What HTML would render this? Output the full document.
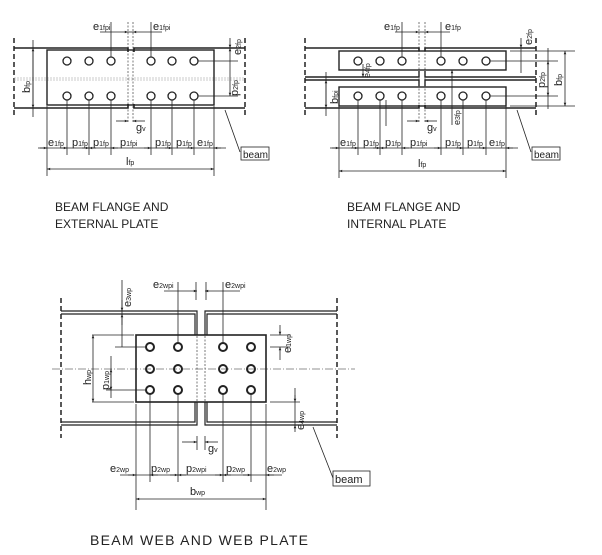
<!DOCTYPE html>
<html><head><meta charset="utf-8"><style>
html,body{margin:0;padding:0;background:#fff;}
svg{display:block;font-family:"Liberation Sans",Arial,sans-serif;}
text{fill:#222;}
.t{font-size:11px;}
.s{font-size:7px;}
</style></head><body>
<svg width="602" height="555" viewBox="0 0 602 555" xmlns="http://www.w3.org/2000/svg">
<defs>
<marker id="a" viewBox="0 0 10 10" refX="10" refY="5" markerWidth="6" markerHeight="4" orient="auto-start-reverse"><path d="M0,1 L10,5 L0,9z" fill="#222"/></marker>
</defs>
<g stroke="#222" fill="none" stroke-width="0.8">

<!-- ===== Diagram 1 ===== -->
<line x1="14" y1="38" x2="14" y2="118" stroke-dasharray="5,3" stroke-width="1.5"/>
<line x1="245" y1="38" x2="245" y2="118" stroke-dasharray="5,3" stroke-width="1.5"/>
<path d="M14 48H128V52M134 52V48H245" stroke-width="1.6"/>
<path d="M14 108H128V104M134 104V108H245" stroke-width="1.6"/>
<line x1="14" y1="78" x2="245" y2="78" stroke="#bbb" stroke-dasharray="2,1"/>
<line x1="14" y1="80" x2="245" y2="80" stroke="#bbb" stroke-dasharray="2,1"/>
<rect x="47" y="50" width="167" height="55" stroke-width="1.4"/>
<line x1="128" y1="22" x2="128" y2="122" stroke-dasharray="2,1.5" stroke-width="0.6"/>
<line x1="133" y1="22" x2="133" y2="122" stroke-dasharray="2,1.5" stroke-width="0.6"/>
<g stroke-width="1.3">
<circle cx="67" cy="61" r="4"/><circle cx="89" cy="61" r="4"/><circle cx="111" cy="61" r="4"/>
<circle cx="151" cy="61" r="4"/><circle cx="172" cy="61" r="4"/><circle cx="194" cy="61" r="4"/>
<circle cx="67" cy="96" r="4"/><circle cx="89" cy="96" r="4"/><circle cx="111" cy="96" r="4"/>
<circle cx="151" cy="96" r="4"/><circle cx="172" cy="96" r="4"/><circle cx="194" cy="96" r="4"/>
</g>
<!-- top dims -->
<line x1="111" y1="22" x2="111" y2="57"/><line x1="151" y1="22" x2="151" y2="57"/>
<line x1="100" y1="32" x2="128" y2="32" marker-end="url(#a)"/><line x1="162" y1="32" x2="133" y2="32" marker-end="url(#a)"/>
<line x1="128" y1="32" x2="133" y2="32"/>
<!-- bfp -->
<line x1="25" y1="48" x2="45" y2="48"/><line x1="25" y1="108" x2="45" y2="108"/>
<line x1="33" y1="40" x2="33" y2="117" /><line x1="33" y1="48" x2="33" y2="108" marker-start="url(#a)" marker-end="url(#a)"/>
<!-- right dims -->
<line x1="198" y1="61" x2="238" y2="61"/><line x1="198" y1="96" x2="238" y2="96"/>
<line x1="218" y1="48" x2="240" y2="48"/>
<line x1="230" y1="38" x2="230" y2="48" marker-end="url(#a)"/>
<line x1="230" y1="48" x2="230" y2="96" marker-start="url(#a)" marker-end="url(#a)"/>
<!-- gv -->
<line x1="116" y1="121" x2="128" y2="121" marker-end="url(#a)"/><line x1="145" y1="121" x2="133" y2="121" marker-end="url(#a)"/>
<!-- bottom ext -->
<line x1="47" y1="106" x2="47" y2="176"/><line x1="214" y1="106" x2="214" y2="176"/>
<line x1="67" y1="100" x2="67" y2="155"/><line x1="89" y1="100" x2="89" y2="155"/><line x1="111" y1="100" x2="111" y2="155"/>
<line x1="151" y1="100" x2="151" y2="155"/><line x1="172" y1="100" x2="172" y2="155"/><line x1="194" y1="100" x2="194" y2="155"/>
<line x1="38" y1="148" x2="226" y2="148"/>
<line x1="40" y1="148" x2="47" y2="148" marker-end="url(#a)"/>
<line x1="60" y1="148" x2="67" y2="148" marker-end="url(#a)"/><line x1="82" y1="148" x2="89" y2="148" marker-end="url(#a)"/>
<line x1="96" y1="148" x2="89" y2="148" marker-end="url(#a)"/><line x1="118" y1="148" x2="111" y2="148" marker-end="url(#a)"/>
<line x1="144" y1="148" x2="151" y2="148" marker-end="url(#a)"/><line x1="165" y1="148" x2="172" y2="148" marker-end="url(#a)"/>
<line x1="187" y1="148" x2="194" y2="148" marker-end="url(#a)"/><line x1="221" y1="148" x2="214" y2="148" marker-end="url(#a)"/>
<line x1="47" y1="169" x2="214" y2="169" marker-start="url(#a)" marker-end="url(#a)"/>
<line x1="225" y1="110" x2="240" y2="152"/>
<rect x="241" y="147" width="28" height="13" stroke-width="0.8"/>

<!-- ===== Diagram 2 ===== -->
<line x1="305" y1="38" x2="305" y2="118" stroke-dasharray="5,3" stroke-width="1.5"/>
<line x1="536" y1="38" x2="536" y2="118" stroke-dasharray="5,3" stroke-width="1.5"/>
<path d="M305 48H419V51M425 51V48H536" stroke-width="1.6"/>
<path d="M305 108H419V105M425 105V108H536" stroke-width="1.6"/>
<path d="M305 77H419V71M425 71V77H536" stroke-width="1.4"/>
<path d="M305 80H419V86M425 86V80H536" stroke-width="1.4"/>
<rect x="339" y="51" width="167" height="19" stroke-width="1.4"/>
<rect x="339" y="87" width="167" height="19" stroke-width="1.4"/>
<line x1="419" y1="22" x2="419" y2="122" stroke-dasharray="2,1.5" stroke-width="0.6"/>
<line x1="425" y1="22" x2="425" y2="122" stroke-dasharray="2,1.5" stroke-width="0.6"/>
<g stroke-width="1.3">
<circle cx="358" cy="61" r="4"/><circle cx="380" cy="61" r="4"/><circle cx="402" cy="61" r="4"/>
<circle cx="441" cy="61" r="4"/><circle cx="463" cy="61" r="4"/><circle cx="486" cy="61" r="4"/>
<circle cx="358" cy="96" r="4"/><circle cx="380" cy="96" r="4"/><circle cx="402" cy="96" r="4"/>
<circle cx="441" cy="96" r="4"/><circle cx="463" cy="96" r="4"/><circle cx="486" cy="96" r="4"/>
</g>
<line x1="402" y1="22" x2="402" y2="57"/><line x1="441" y1="22" x2="441" y2="57"/>
<line x1="395" y1="32" x2="419" y2="32" marker-end="url(#a)"/><line x1="450" y1="32" x2="425" y2="32" marker-end="url(#a)"/>
<line x1="419" y1="32" x2="425" y2="32"/>
<!-- bfpi -->
<line x1="318" y1="80" x2="337" y2="80"/><line x1="318" y1="108" x2="337" y2="108"/>
<line x1="326" y1="72" x2="326" y2="116"/><line x1="326" y1="80" x2="326" y2="108" marker-start="url(#a)" marker-end="url(#a)"/>
<!-- e4fp -->
<line x1="363" y1="64" x2="363" y2="77" marker-end="url(#a)"/>
<!-- e3fp -->
<line x1="452" y1="125" x2="452" y2="70" marker-end="url(#a)"/>
<line x1="386" y1="100" x2="386" y2="126"/>
<!-- right dims -->
<line x1="490" y1="61" x2="558" y2="61"/><line x1="490" y1="96" x2="558" y2="96"/>
<line x1="510" y1="51" x2="575" y2="51"/><line x1="510" y1="106" x2="575" y2="106"/>
<line x1="520" y1="48" x2="536" y2="48"/>
<line x1="521" y1="38" x2="521" y2="48" marker-end="url(#a)"/>
<line x1="521" y1="48" x2="521" y2="73"/>
<line x1="548" y1="61" x2="548" y2="96" marker-start="url(#a)" marker-end="url(#a)"/>
<line x1="548" y1="48" x2="548" y2="109"/>
<line x1="565" y1="51" x2="565" y2="106" marker-start="url(#a)" marker-end="url(#a)"/>
<!-- gv -->
<line x1="407" y1="121" x2="419" y2="121" marker-end="url(#a)"/><line x1="437" y1="121" x2="425" y2="121" marker-end="url(#a)"/>
<!-- bottom -->
<line x1="339" y1="106" x2="339" y2="178"/><line x1="506" y1="106" x2="506" y2="178"/>
<line x1="358" y1="100" x2="358" y2="155"/><line x1="380" y1="100" x2="380" y2="155"/><line x1="402" y1="100" x2="402" y2="155"/>
<line x1="441" y1="100" x2="441" y2="155"/><line x1="463" y1="100" x2="463" y2="155"/><line x1="486" y1="100" x2="486" y2="155"/>
<line x1="330" y1="148" x2="518" y2="148"/>
<line x1="332" y1="148" x2="339" y2="148" marker-end="url(#a)"/>
<line x1="351" y1="148" x2="358" y2="148" marker-end="url(#a)"/><line x1="373" y1="148" x2="380" y2="148" marker-end="url(#a)"/>
<line x1="387" y1="148" x2="380" y2="148" marker-end="url(#a)"/><line x1="409" y1="148" x2="402" y2="148" marker-end="url(#a)"/>
<line x1="434" y1="148" x2="441" y2="148" marker-end="url(#a)"/><line x1="456" y1="148" x2="463" y2="148" marker-end="url(#a)"/>
<line x1="479" y1="148" x2="486" y2="148" marker-end="url(#a)"/><line x1="513" y1="148" x2="506" y2="148" marker-end="url(#a)"/>
<line x1="339" y1="171" x2="506" y2="171" marker-start="url(#a)" marker-end="url(#a)"/>
<line x1="517" y1="110" x2="531" y2="152"/>
<rect x="532" y="147" width="28" height="13"/>

<!-- ===== Diagram 3 ===== -->
<line x1="61" y1="298" x2="61" y2="438" stroke-dasharray="5,3" stroke-width="1.5"/>
<line x1="337" y1="298" x2="337" y2="438" stroke-dasharray="5,3" stroke-width="1.5"/>
<path d="M61 311H197V335M205 335V311H337" stroke-width="1.2"/>
<path d="M61 314H195V335M207 335V314H337" stroke-width="1.2"/>
<path d="M61 425H197V402M205 402V425H337" stroke-width="1.2"/>
<path d="M61 422H195V402M207 402V422H337" stroke-width="1.2"/>
<line x1="52" y1="369" x2="355" y2="369" stroke-dasharray="8,2,1,2" stroke-width="0.6"/>
<rect x="136" y="335" width="130" height="67" stroke-width="1.6"/>
<line x1="197" y1="336" x2="197" y2="401" stroke-dasharray="2,1.5" stroke-width="0.6"/>
<line x1="205" y1="336" x2="205" y2="401" stroke-dasharray="2,1.5" stroke-width="0.6"/>
<g stroke-width="2">
<circle cx="150" cy="347" r="4"/><circle cx="178" cy="347" r="4"/><circle cx="223" cy="347" r="4"/><circle cx="251" cy="347" r="4"/>
<circle cx="150" cy="369" r="4"/><circle cx="178" cy="369" r="4"/><circle cx="223" cy="369" r="4"/><circle cx="251" cy="369" r="4"/>
<circle cx="150" cy="390" r="4"/><circle cx="178" cy="390" r="4"/><circle cx="223" cy="390" r="4"/><circle cx="251" cy="390" r="4"/>
</g>
<!-- top dims -->
<line x1="178" y1="282" x2="178" y2="343"/><line x1="223" y1="282" x2="223" y2="343"/>
<line x1="196" y1="282" x2="196" y2="300"/><line x1="206" y1="282" x2="206" y2="300"/>
<line x1="164" y1="291" x2="197" y2="291" marker-end="url(#a)"/><line x1="240" y1="291" x2="205" y2="291" marker-end="url(#a)"/>
<line x1="122" y1="280" x2="122" y2="347"/><line x1="122" y1="300" x2="122" y2="311" marker-end="url(#a)"/>
<line x1="122" y1="325" x2="122" y2="314" marker-end="url(#a)"/>
<line x1="115" y1="347" x2="146" y2="347"/>
<line x1="92" y1="335" x2="134" y2="335"/><line x1="92" y1="402" x2="134" y2="402"/>
<line x1="93" y1="335" x2="93" y2="402" marker-start="url(#a)" marker-end="url(#a)"/>
<line x1="111" y1="356" x2="111" y2="398"/>
<line x1="111" y1="369" x2="111" y2="390" marker-start="url(#a)" marker-end="url(#a)"/>
<line x1="106" y1="390" x2="146" y2="390"/>
<!-- right -->
<line x1="270" y1="335" x2="290" y2="335"/><line x1="270" y1="347" x2="290" y2="347"/>
<line x1="280" y1="325" x2="280" y2="335" marker-end="url(#a)"/><line x1="280" y1="360" x2="280" y2="347" marker-end="url(#a)"/>
<line x1="270" y1="402" x2="300" y2="402"/>
<line x1="295" y1="388" x2="295" y2="425"/>
<line x1="295" y1="395" x2="295" y2="402" marker-end="url(#a)"/><line x1="295" y1="432" x2="295" y2="425" marker-end="url(#a)"/>
<!-- gv -->
<line x1="182" y1="442" x2="197" y2="442" marker-end="url(#a)"/><line x1="218" y1="442" x2="205" y2="442" marker-end="url(#a)"/>
<line x1="197" y1="436" x2="197" y2="450"/><line x1="205" y1="436" x2="205" y2="450"/>
<!-- bottom -->
<line x1="136" y1="404" x2="136" y2="510"/><line x1="266" y1="404" x2="266" y2="510"/>
<line x1="150" y1="394" x2="150" y2="482"/><line x1="178" y1="394" x2="178" y2="482"/>
<line x1="223" y1="394" x2="223" y2="482"/><line x1="251" y1="394" x2="251" y2="482"/>
<line x1="120" y1="475" x2="282" y2="475"/>
<line x1="128" y1="475" x2="136" y2="475" marker-end="url(#a)"/>
<line x1="158" y1="475" x2="150" y2="475" marker-end="url(#a)"/><line x1="170" y1="475" x2="178" y2="475" marker-end="url(#a)"/>
<line x1="186" y1="475" x2="178" y2="475" marker-end="url(#a)"/><line x1="215" y1="475" x2="223" y2="475" marker-end="url(#a)"/>
<line x1="231" y1="475" x2="223" y2="475" marker-end="url(#a)"/><line x1="243" y1="475" x2="251" y2="475" marker-end="url(#a)"/>
<line x1="274" y1="475" x2="266" y2="475" marker-end="url(#a)"/>
<line x1="136" y1="499" x2="266" y2="499" marker-start="url(#a)" marker-end="url(#a)"/>
<line x1="313" y1="427" x2="333" y2="478"/>
<rect x="333" y="471" width="37" height="15"/>
</g>

<!-- ===== Text ===== -->
<g class="t">
<text x="93" y="30">e<tspan class="s">1fpi</tspan></text>
<text x="153" y="30">e<tspan class="s">1fpi</tspan></text>
<text transform="translate(30,93) rotate(-90)">b<tspan class="s">fp</tspan></text>
<text transform="translate(241,55) rotate(-90)">e<tspan class="s">2fp</tspan></text>
<text transform="translate(238,96) rotate(-90)">p<tspan class="s">2fp</tspan></text>
<text x="136" y="131">g<tspan class="s">v</tspan></text>
<text x="48" y="146">e<tspan class="s">1fp</tspan></text>
<text x="72" y="146">p<tspan class="s">1fp</tspan></text>
<text x="93" y="146">p<tspan class="s">1fp</tspan></text>
<text x="120" y="146">p<tspan class="s">1fpi</tspan></text>
<text x="155" y="146">p<tspan class="s">1fp</tspan></text>
<text x="176" y="146">p<tspan class="s">1fp</tspan></text>
<text x="197" y="146">e<tspan class="s">1fp</tspan></text>
<text x="126" y="165">l<tspan class="s">fp</tspan></text>
<text x="243" y="158" style="font-size:10px">beam</text>

<text x="384" y="30">e<tspan class="s">1fp</tspan></text>
<text x="445" y="30">e<tspan class="s">1fp</tspan></text>
<text transform="translate(370,78) rotate(-90)" style="font-size:9px">e<tspan class="s">4fp</tspan></text>
<text transform="translate(338,104) rotate(-90)">b<tspan class="s">fpi</tspan></text>
<text transform="translate(460,125) rotate(-90)" style="font-size:9px">e<tspan class="s">3fp</tspan></text>
<text transform="translate(532,45) rotate(-90)">e<tspan class="s">2fp</tspan></text>
<text transform="translate(545,88) rotate(-90)">p<tspan class="s">2fp</tspan></text>
<text transform="translate(562,86) rotate(-90)">b<tspan class="s">fp</tspan></text>
<text x="427" y="131">g<tspan class="s">v</tspan></text>
<text x="340" y="146">e<tspan class="s">1fp</tspan></text>
<text x="363" y="146">p<tspan class="s">1fp</tspan></text>
<text x="385" y="146">p<tspan class="s">1fp</tspan></text>
<text x="410" y="146">p<tspan class="s">1fpi</tspan></text>
<text x="445" y="146">p<tspan class="s">1fp</tspan></text>
<text x="467" y="146">p<tspan class="s">1fp</tspan></text>
<text x="489" y="146">e<tspan class="s">1fp</tspan></text>
<text x="418" y="167">l<tspan class="s">fp</tspan></text>
<text x="534" y="158" style="font-size:10px">beam</text>

<text x="153" y="288">e<tspan class="s">2wpi</tspan></text>
<text x="225" y="288">e<tspan class="s">2wpi</tspan></text>
<text transform="translate(131,307) rotate(-90)">e<tspan class="s">3wp</tspan></text>
<text transform="translate(91,385) rotate(-90)">h<tspan class="s">wp</tspan></text>
<text transform="translate(109,390) rotate(-90)">p<tspan class="s">1wp</tspan></text>
<text transform="translate(291,353) rotate(-90)">e<tspan class="s">1wp</tspan></text>
<text transform="translate(304,430) rotate(-90)">e<tspan class="s">4wp</tspan></text>
<text x="208" y="452">g<tspan class="s">v</tspan></text>
<text x="110" y="472">e<tspan class="s">2wp</tspan></text>
<text x="151" y="472">p<tspan class="s">2wp</tspan></text>
<text x="186" y="472">p<tspan class="s">2wpi</tspan></text>
<text x="226" y="472">p<tspan class="s">2wp</tspan></text>
<text x="267" y="472">e<tspan class="s">2wp</tspan></text>
<text x="190" y="495">b<tspan class="s">wp</tspan></text>
<text x="335" y="483" style="font-size:11px">beam</text>
</g>
<g style="font-size:12px">
<text x="55" y="211">BEAM FLANGE AND</text>
<text x="55" y="228">EXTERNAL PLATE</text>
<text x="347" y="211">BEAM FLANGE AND</text>
<text x="347" y="228">INTERNAL PLATE</text>
</g>
<text x="90" y="545" style="font-size:14px" textLength="218">BEAM WEB AND WEB PLATE</text>
</svg>
</body></html>
